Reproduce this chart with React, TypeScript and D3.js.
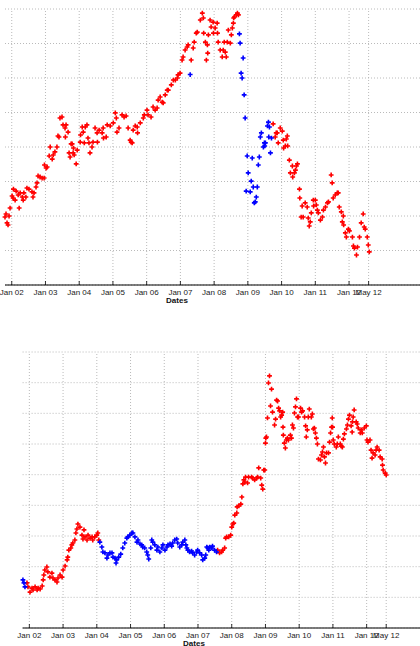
import * as d3 from 'd3';

// dates are decimal years, values in (unlabelled) grid units
const xTickValues = [2002, 2003, 2004, 2005, 2006, 2007, 2008, 2009, 2010, 2011, 2012, 2012.58];
const xTickLabels = ['Jan 02', 'Jan 03', 'Jan 04', 'Jan 05', 'Jan 06', 'Jan 07', 'Jan 08', 'Jan 09', 'Jan 10', 'Jan 11', 'Jan 12', 'May 12'];
const topGridValues = [0, 10, 20, 30, 40, 50, 60, 70, 80];
const bottomGridValues = [0, 10, 20, 30, 40, 50, 60, 70, 80, 90];

const topRed: [number, number][] = [
  [2001.80, 19.7], [2001.83, 20.6], [2001.86, 18.0], [2001.89, 17.4], [2001.92, 20.0], [2001.95, 22.3],
  [2002.01, 25.8], [2002.04, 25.2], [2002.05, 27.8], [2002.10, 24.6], [2002.13, 27.2], [2002.19, 26.1],
  [2002.22, 22.3], [2002.25, 26.7], [2002.31, 25.5], [2002.34, 24.6], [2002.36, 26.7], [2002.42, 25.5],
  [2002.45, 28.1], [2002.51, 27.8], [2002.60, 27.0], [2002.63, 25.5], [2002.66, 26.7], [2002.72, 28.4],
  [2002.75, 29.6], [2002.78, 31.6], [2002.84, 31.3], [2002.90, 31.0], [2002.96, 31.0], [2002.97, 34.8],
  [2003.02, 33.9], [2003.05, 34.2], [2003.11, 37.4], [2003.14, 40.0], [2003.20, 36.5], [2003.23, 37.7],
  [2003.28, 38.6], [2003.34, 40.0], [2003.37, 43.2], [2003.40, 42.9], [2003.43, 48.4], [2003.49, 48.7],
  [2003.52, 46.4], [2003.58, 45.5], [2003.59, 42.9], [2003.61, 46.4], [2003.67, 44.3], [2003.70, 38.3],
  [2003.73, 37.1], [2003.76, 40.9], [2003.79, 40.9], [2003.82, 38.3], [2003.83, 39.7], [2003.85, 37.7],
  [2003.91, 35.1], [2003.94, 39.1], [2004.03, 41.4], [2004.04, 43.5], [2004.09, 45.8], [2004.12, 44.3],
  [2004.15, 41.2], [2004.18, 45.8], [2004.23, 46.4], [2004.26, 42.6], [2004.29, 41.2], [2004.32, 38.3],
  [2004.38, 40.0], [2004.41, 41.4], [2004.47, 45.5], [2004.53, 44.1], [2004.54, 41.4], [2004.59, 44.9],
  [2004.68, 44.1], [2004.71, 45.5], [2004.72, 42.6], [2004.80, 42.9], [2004.83, 46.4], [2004.92, 46.1],
  [2005.01, 47.0], [2005.07, 49.9], [2005.10, 48.4], [2005.12, 44.3], [2005.18, 45.5], [2005.27, 49.3],
  [2005.33, 48.7], [2005.39, 49.0], [2005.45, 45.5], [2005.51, 42.0], [2005.54, 41.4], [2005.57, 41.2],
  [2005.60, 44.9], [2005.66, 46.1], [2005.72, 45.8], [2005.73, 44.1], [2005.81, 47.0], [2005.90, 48.4],
  [2005.93, 49.3], [2006.01, 50.7], [2006.04, 49.3], [2006.13, 48.7], [2006.19, 51.6], [2006.25, 50.7],
  [2006.31, 51.3], [2006.34, 53.6], [2006.40, 54.5], [2006.46, 53.0], [2006.49, 52.8], [2006.55, 55.1],
  [2006.61, 56.5], [2006.64, 56.5], [2006.73, 58.0], [2006.79, 59.4], [2006.85, 59.4], [2006.91, 60.0],
  [2006.93, 60.9], [2006.99, 61.4], [2007.05, 65.2], [2007.08, 66.1], [2007.14, 68.1], [2007.20, 69.0],
  [2007.23, 69.6], [2007.32, 65.2], [2007.38, 68.7], [2007.41, 70.4], [2007.47, 73.0], [2007.50, 73.3],
  [2007.59, 76.8], [2007.65, 78.8], [2007.68, 77.4], [2007.69, 73.0], [2007.74, 70.4], [2007.77, 65.2],
  [2007.80, 69.6], [2007.81, 67.2], [2007.83, 72.5], [2007.88, 76.8], [2007.91, 74.8], [2007.97, 76.2],
  [2007.98, 73.0], [2008.03, 74.5], [2008.09, 75.9], [2008.10, 73.0], [2008.12, 70.4], [2008.18, 68.1],
  [2008.24, 66.1], [2008.27, 68.1], [2008.30, 70.4], [2008.33, 67.5], [2008.36, 66.1], [2008.39, 70.4],
  [2008.42, 73.9], [2008.48, 70.1], [2008.51, 72.5], [2008.54, 74.5], [2008.57, 75.9], [2008.58, 77.4],
  [2008.60, 77.7], [2008.66, 78.3], [2008.69, 78.8], [2008.72, 78.3],
  [2009.75, 46.7], [2009.81, 42.9], [2009.84, 44.1], [2009.87, 44.1], [2009.90, 41.2], [2009.96, 45.5],
  [2010.02, 44.6], [2010.05, 42.0], [2010.06, 39.7], [2010.11, 40.3], [2010.14, 42.3], [2010.17, 43.2],
  [2010.18, 40.3], [2010.23, 36.2], [2010.26, 32.5], [2010.32, 34.5], [2010.33, 31.3], [2010.38, 32.5],
  [2010.41, 33.3], [2010.44, 34.5], [2010.47, 35.1], [2010.53, 27.8], [2010.54, 25.2], [2010.58, 19.7],
  [2010.61, 22.9], [2010.64, 19.7], [2010.70, 23.8], [2010.76, 22.6], [2010.79, 19.4], [2010.82, 17.1],
  [2010.85, 18.3], [2010.88, 20.9], [2010.94, 24.6], [2010.95, 22.9], [2011.00, 24.6], [2011.03, 23.2],
  [2011.06, 21.7], [2011.09, 20.9], [2011.15, 18.8], [2011.21, 19.7], [2011.24, 21.7], [2011.30, 22.6],
  [2011.36, 23.8], [2011.39, 24.1], [2011.47, 31.9], [2011.50, 29.6], [2011.53, 25.2], [2011.59, 26.1],
  [2011.65, 26.7], [2011.68, 26.7], [2011.71, 22.6], [2011.77, 21.2], [2011.80, 18.3], [2011.83, 20.0],
  [2011.84, 17.4], [2011.89, 15.1], [2011.92, 13.9], [2011.98, 16.2], [2012.01, 15.7], [2012.10, 13.9],
  [2012.13, 11.3], [2012.16, 10.7], [2012.22, 8.7], [2012.25, 11.0], [2012.31, 13.9], [2012.36, 18.0],
  [2012.42, 20.6], [2012.45, 16.8], [2012.48, 16.2], [2012.54, 13.9], [2012.57, 11.6], [2012.60, 9.6],
];

const topBlue: [number, number][] = [
  [2007.29, 61.0], [2008.75, 72.8], [2008.77, 70.1], [2008.80, 61.4], [2008.83, 60.0], [2008.86, 65.8],
  [2008.89, 55.1], [2008.92, 48.4], [2008.95, 27.2], [2008.98, 37.4], [2009.01, 32.5], [2009.07, 27.0],
  [2009.10, 30.1], [2009.13, 36.8], [2009.16, 28.4], [2009.19, 23.8], [2009.22, 24.1], [2009.25, 25.5],
  [2009.28, 28.4], [2009.31, 34.8], [2009.34, 37.1], [2009.37, 42.9], [2009.40, 44.1], [2009.46, 40.0],
  [2009.49, 41.2], [2009.50, 40.3], [2009.52, 41.2], [2009.58, 46.1], [2009.61, 47.2], [2009.62, 42.9],
  [2009.64, 45.8], [2009.67, 38.3], [2009.70, 42.6],
];

const bottomRed: [number, number][] = [
  [2001.93, 14.7], [2001.96, 13.4], [2002.02, 11.7], [2002.08, 13.0], [2002.11, 12.4], [2002.17, 13.4],
  [2002.23, 12.4], [2002.26, 13.0], [2002.32, 12.7], [2002.38, 13.7], [2002.41, 15.7], [2002.43, 17.3],
  [2002.46, 18.9], [2002.52, 19.9], [2002.55, 18.3], [2002.61, 16.6], [2002.67, 17.9], [2002.70, 16.3],
  [2002.76, 15.7], [2002.82, 15.0], [2002.85, 16.3], [2002.91, 17.3], [2002.97, 16.6], [2003.00, 18.9],
  [2003.06, 20.2], [2003.12, 22.2], [2003.14, 23.1], [2003.17, 25.4], [2003.23, 26.1], [2003.26, 27.1],
  [2003.29, 27.7], [2003.35, 28.7], [2003.38, 31.0], [2003.41, 32.3], [2003.44, 33.9], [2003.50, 32.9],
  [2003.56, 30.3], [2003.59, 29.0], [2003.62, 32.0], [2003.65, 29.7], [2003.71, 28.7], [2003.74, 30.3],
  [2003.80, 29.3], [2003.86, 29.7], [2003.88, 28.7], [2003.94, 29.7], [2004.00, 30.3], [2004.03, 31.0],
  [2004.06, 28.7],
  [2007.58, 25.4], [2007.64, 24.5], [2007.70, 24.8], [2007.73, 25.4], [2007.79, 26.1], [2007.82, 29.3],
  [2007.85, 29.7], [2007.91, 29.7], [2007.97, 30.3], [2008.00, 32.9], [2008.03, 33.9], [2008.06, 34.2],
  [2008.09, 36.8], [2008.15, 37.5], [2008.16, 39.5], [2008.21, 39.8], [2008.27, 40.4], [2008.30, 42.7],
  [2008.33, 47.0], [2008.36, 48.3], [2008.39, 47.6], [2008.41, 49.2], [2008.47, 47.3], [2008.50, 49.2],
  [2008.59, 49.2], [2008.62, 48.9], [2008.68, 48.3], [2008.74, 48.9], [2008.77, 49.2], [2008.80, 52.2],
  [2008.86, 48.9], [2008.89, 46.6], [2008.92, 45.3], [2008.95, 51.5], [2008.98, 51.5], [2009.00, 60.3],
  [2009.01, 61.9], [2009.03, 62.3], [2009.06, 68.5], [2009.09, 79.9], [2009.12, 82.2], [2009.15, 72.4],
  [2009.18, 77.9], [2009.21, 70.4], [2009.27, 66.2], [2009.30, 68.1], [2009.33, 74.3], [2009.36, 74.0],
  [2009.39, 71.7], [2009.42, 70.8], [2009.45, 68.8], [2009.48, 69.4], [2009.51, 70.4], [2009.52, 65.5],
  [2009.53, 62.9], [2009.56, 60.3], [2009.59, 58.7], [2009.62, 61.3], [2009.65, 61.9], [2009.68, 61.3],
  [2009.74, 62.9], [2009.77, 61.9], [2009.80, 66.2], [2009.83, 65.2], [2009.86, 70.1], [2009.89, 72.1],
  [2009.92, 74.7], [2009.95, 68.8], [2009.98, 68.8], [2010.04, 71.7], [2010.07, 70.4], [2010.10, 70.8],
  [2010.16, 68.8], [2010.19, 65.9], [2010.21, 62.3], [2010.24, 64.6], [2010.27, 68.8], [2010.30, 71.4],
  [2010.36, 68.8], [2010.39, 69.8], [2010.42, 64.9], [2010.45, 65.2], [2010.48, 63.6], [2010.51, 61.9],
  [2010.54, 60.0], [2010.57, 55.1], [2010.63, 54.8], [2010.66, 56.4], [2010.69, 57.4], [2010.72, 59.0],
  [2010.75, 55.8], [2010.78, 53.8], [2010.81, 57.1], [2010.87, 57.1], [2010.90, 60.6], [2010.93, 63.6],
  [2010.96, 65.5], [2010.98, 68.5], [2010.99, 65.5], [2011.01, 61.3], [2011.04, 60.0], [2011.10, 59.0],
  [2011.13, 60.0], [2011.16, 62.3], [2011.22, 60.0], [2011.25, 59.3], [2011.28, 59.0], [2011.31, 61.6],
  [2011.34, 63.3], [2011.40, 64.9], [2011.43, 66.2], [2011.46, 68.1], [2011.49, 69.4], [2011.54, 65.9],
  [2011.57, 63.9], [2011.58, 67.2], [2011.60, 68.8], [2011.63, 71.1], [2011.69, 67.2], [2011.72, 66.5],
  [2011.75, 65.2], [2011.81, 63.6], [2011.84, 64.6], [2011.87, 63.6], [2011.93, 65.2], [2011.99, 65.9],
  [2012.01, 61.3], [2012.04, 60.6], [2012.10, 61.3], [2012.13, 58.0], [2012.16, 55.4], [2012.19, 57.1],
  [2012.25, 56.4], [2012.28, 58.0], [2012.31, 59.0], [2012.37, 58.0], [2012.40, 55.8], [2012.46, 55.1],
  [2012.47, 53.1], [2012.49, 51.5], [2012.55, 50.5], [2012.58, 49.9],
];

const bottomBlue: [number, number][] = [
  [2001.81, 15.7], [2001.84, 14.7], [2001.87, 13.4],
  [2004.09, 28.0], [2004.15, 26.4], [2004.18, 24.8], [2004.24, 24.5], [2004.30, 22.8], [2004.33, 23.8],
  [2004.39, 24.5], [2004.45, 24.5], [2004.48, 23.1], [2004.54, 22.8], [2004.57, 21.2], [2004.59, 22.2],
  [2004.65, 23.1], [2004.71, 24.1], [2004.77, 26.1], [2004.83, 27.7], [2004.89, 29.3], [2004.92, 29.7],
  [2004.98, 30.3], [2005.04, 31.0], [2005.07, 31.0], [2005.13, 29.7], [2005.19, 28.0], [2005.22, 28.7],
  [2005.28, 27.4], [2005.33, 27.1], [2005.36, 26.4], [2005.42, 26.1], [2005.48, 24.8], [2005.51, 23.8],
  [2005.54, 22.5], [2005.60, 26.1], [2005.63, 28.7], [2005.66, 28.0], [2005.72, 27.1], [2005.78, 25.4],
  [2005.81, 26.4], [2005.87, 24.8], [2005.93, 26.1], [2005.96, 27.1], [2006.02, 25.4], [2006.08, 26.4],
  [2006.11, 27.1], [2006.17, 27.4], [2006.22, 26.7], [2006.25, 27.7], [2006.31, 28.7], [2006.37, 29.0],
  [2006.40, 27.7], [2006.46, 26.4], [2006.52, 27.1], [2006.55, 28.0], [2006.61, 28.7], [2006.64, 27.1],
  [2006.67, 26.1], [2006.70, 25.4], [2006.75, 24.8], [2006.81, 25.1], [2006.84, 24.5], [2006.90, 23.8],
  [2006.96, 24.8], [2006.99, 25.4], [2007.05, 24.5], [2007.11, 23.8], [2007.14, 22.2], [2007.20, 22.8],
  [2007.23, 23.8], [2007.26, 26.4], [2007.29, 26.1], [2007.32, 25.4], [2007.35, 26.4], [2007.41, 26.1],
  [2007.43, 26.7], [2007.49, 25.4], [2007.55, 24.8],
];

const RED = '#ff0000';
const BLUE = '#0000ff';
const FONT = '"Liberation Sans", Arial, sans-serif';
const plus = 'M-2.4,0H2.4M0,-2.4V2.4';

interface PanelProps {
  left: number;
  top: number;
  bottom: number;
  yMax: number;
  grid: number[];
  red: [number, number][];
  blue: [number, number][];
  datesX: number;
}

function Panel({ left, top, bottom, yMax, grid, red, blue, datesX }: PanelProps) {
  const x = d3.scaleLinear().domain([2001.8, 2014.4]).range([left, left + 425]);
  const y = d3.scaleLinear().domain([0, yMax]).range([bottom, top]);
  const right = 440;
  return (
    <g>
      {grid.map((g) => (
        <line key={'h' + g} x1={left} x2={right} y1={y(g)} y2={y(g)}
          stroke="#a8a8a8" strokeWidth={0.8} strokeDasharray="1,2" />
      ))}
      {xTickValues.map((t) => (
        <line key={'v' + t} x1={x(t)} x2={x(t)} y1={bottom} y2={top}
          stroke="#a8a8a8" strokeWidth={0.8} strokeDasharray="1,2" />
      ))}
      {red.map((d, i) => (
        <path key={'r' + i} d={plus} transform={`translate(${x(d[0])},${y(d[1])})`}
          stroke={RED} strokeWidth={1.6} fill="none" />
      ))}
      {blue.map((d, i) => (
        <path key={'b' + i} d={plus} transform={`translate(${x(d[0])},${y(d[1])})`}
          stroke={BLUE} strokeWidth={1.6} fill="none" />
      ))}
      <line x1={left} x2={right} y1={bottom} y2={bottom} stroke="#000" strokeWidth={1} />
      {xTickValues.map((t, i) => (
        <g key={'t' + t}>
          <line x1={x(t)} x2={x(t)} y1={bottom} y2={bottom - 4} stroke="#000" strokeWidth={0.8} />
          <text x={x(t)} y={bottom + 10} textAnchor="middle" fontSize={8} fill="#222"
            fontFamily={FONT}>{xTickLabels[i]}</text>
        </g>
      ))}
      <text x={datesX} y={bottom + 17.5} textAnchor="middle" fontSize={8} fontWeight="bold"
        fill="#111" fontFamily={FONT}>Dates</text>
    </g>
  );
}

export default function App() {
  return (
    <svg width={420} height={646} style={{ position: 'absolute', left: 0, top: 0, background: '#fff' }}>
      <Panel left={5} top={9} bottom={285} yMax={80} grid={topGridValues}
        red={topRed} blue={topBlue} datesX={177} />
      <Panel left={22.6} top={352} bottom={628} yMax={90} grid={bottomGridValues}
        red={bottomRed} blue={bottomBlue} datesX={194} />
    </svg>
  );
}
